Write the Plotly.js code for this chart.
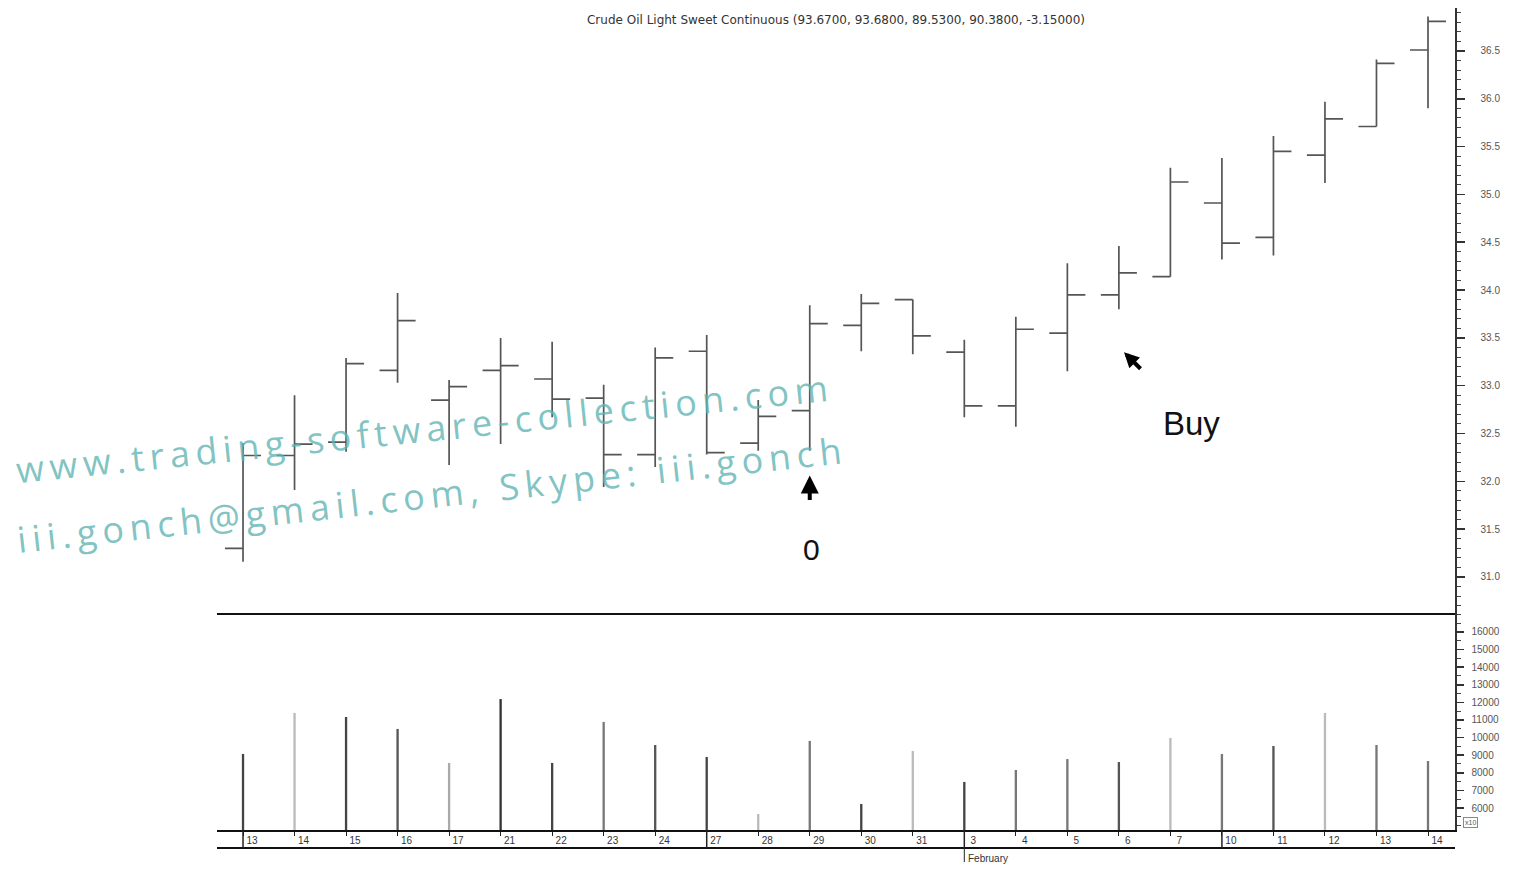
<!DOCTYPE html>
<html>
<head>
<meta charset="utf-8">
<script src="https://cdn.plot.ly/plotly-3.0.1.min.js"></script>
<style>html,body{margin:0;padding:0;background:#fff;}#chart{width:1515px;height:869px;}</style>
</head>
<body>
<div id="chart"></div>
<script>
// ---- data ----
const dates = ["2003-01-13","2003-01-14","2003-01-15","2003-01-16","2003-01-17","2003-01-21","2003-01-22","2003-01-23","2003-01-24","2003-01-27","2003-01-28","2003-01-29","2003-01-30","2003-01-31","2003-02-03","2003-02-04","2003-02-05","2003-02-06","2003-02-07","2003-02-10","2003-02-11","2003-02-12","2003-02-13","2003-02-14"];
const openP  = [31.30,32.27,32.41,33.16,32.85,33.16,33.07,32.87,32.28,33.36,32.40,32.74,33.63,33.90,33.35,32.79,33.55,33.95,34.14,34.91,34.55,35.41,35.71,36.51];
const highP  = [32.40,32.90,33.29,33.97,33.06,33.50,33.46,33.01,33.40,33.53,32.85,33.84,33.96,33.90,33.48,33.72,34.28,34.46,35.28,35.38,35.61,35.97,36.41,36.86];
const lowP   = [31.16,31.91,32.31,33.03,32.17,32.39,32.67,31.94,32.15,32.28,32.32,32.32,33.36,33.33,32.67,32.57,33.15,33.80,34.14,34.32,34.36,35.12,35.71,35.90];
const closeP = [32.27,32.39,33.23,33.68,32.99,33.21,32.86,32.28,33.29,32.30,32.68,33.65,33.86,33.52,32.79,33.59,33.95,34.18,35.13,34.49,35.45,35.79,36.37,36.81];
const volume = [9070,11400,11170,10490,8560,12190,8560,10890,9580,8900,5660,9810,6230,9240,7480,8160,8780,8610,9980,9070,9520,11400,9580,8670];
const priceTicks = [31.0,31.5,32.0,32.5,33.0,33.5,34.0,34.5,35.0,35.5,36.0,36.5];
const volumeTicks = [6000,7000,8000,9000,10000,11000,12000,13000,14000,15000,16000];
const titleText = "Crude Oil Light Sweet Continuous (93.6700, 93.6800, 89.5300, 90.3800, -3.15000)";
const watermark1 = "www.trading-software-collection.com";
const watermark2 = "iii.gonch@gmail.com, Skype: iii.gonch";

// ---- derived ----
const idx = dates.map((d,i)=>i);
const dayLabels = dates.map(d=>String(parseInt(d.slice(8),10)));
const dObjs = dates.map(d=>new Date(d+"T00:00:00Z"));
const mondays = idx.filter(i=>dObjs[i].getUTCDay()===1);
const monthStart = idx.filter(i=>i>0 && dObjs[i].getUTCMonth()!==dObjs[i-1].getUTCMonth());
const monthNames = ["January","February","March","April","May","June","July","August","September","October","November","December"];

const volColors = ["#444","#bbb","#444","#555","#aaa","#333","#444","#777","#555","#444","#bbb","#777","#444","#bbb","#444","#777","#777","#555","#bbb","#777","#555","#bbb","#777","#777"];

const font = "Liberation Sans, Arial, sans-serif";
const bandY = -18/822;

const traces = [
  {type:"ohlc", x:idx, open:openP, high:highP, low:lowP, close:closeP,
   xaxis:"x", yaxis:"y2", tickwidth:0.35, hoverinfo:"skip", showlegend:false,
   increasing:{line:{color:"#555",width:1.7}}, decreasing:{line:{color:"#555",width:1.7}}},
  {type:"bar", x:idx, y:volume, xaxis:"x", yaxis:"y", width:0.045,
   marker:{color:volColors, line:{width:0}}, hoverinfo:"skip", showlegend:false}
];

const shapes = [
  {type:"line", xref:"paper", yref:"paper", x0:0, x1:1, y0:216/822, y1:216/822, line:{color:"#111",width:2}},
  {type:"line", xref:"paper", yref:"paper", x0:0, x1:1, y0:bandY, y1:bandY, line:{color:"#111",width:2}}
];
mondays.forEach(i=>shapes.push({type:"line", xref:"x", yref:"paper", x0:i, x1:i, y0:0, y1:bandY, line:{color:"#222",width:1.5}}));
monthStart.forEach(i=>shapes.push({type:"line", xref:"x", yref:"paper", x0:i, x1:i, y0:bandY, y1:-32/822, line:{color:"#222",width:1}}));

const wmFont = {family:"Open Sans, sans-serif", size:36, color:"rgba(95,180,180,0.8)"};
const annotations = [
  {xref:"x", yref:"y2", x:11, y:32.06, ax:0, ay:26, text:"", showarrow:true, arrowhead:2, arrowsize:0.9, arrowwidth:4, arrowcolor:"#000"},
  {xref:"x", yref:"y2", x:11.03, y:31.29, text:"0", showarrow:false, font:{family:font,size:30,color:"#111"}},
  {xref:"x", yref:"y2", x:17.10, y:33.35, ax:18, ay:18, text:"", showarrow:true, arrowhead:2, arrowsize:0.75, arrowwidth:4, arrowcolor:"#000"},
  {xref:"x", yref:"y2", x:18.40, y:32.61, text:"Buy", showarrow:false, font:{family:font,size:33,color:"#111"}},
  {xref:"paper", yref:"paper", x:(424-217)/1238, y:(830-428)/822, xanchor:"center", yanchor:"middle", text:watermark1, showarrow:false, textangle:-5.8, font:wmFont},
  {xref:"paper", yref:"paper", x:(432-217)/1238, y:(830-494)/822, xanchor:"center", yanchor:"middle", text:watermark2, showarrow:false, textangle:-6.2, font:wmFont},
  {xref:"paper", yref:"paper", x:(1470-217)/1238, y:8/822, xanchor:"center", yanchor:"middle", text:"x10", showarrow:false, font:{family:font,size:7,color:"#555"},
   bordercolor:"#888", borderwidth:1, borderpad:1}
];
monthStart.forEach(i=>annotations.push({xref:"x", yref:"paper", x:i, y:-28/822, xanchor:"left", yanchor:"middle", xshift:2,
  text:monthNames[dObjs[i].getUTCMonth()], showarrow:false, font:{family:font,size:10,color:"#333"}}));

const layout = {
  width:1515, height:869,
  margin:{l:217, r:60, t:8, b:39},
  paper_bgcolor:"#fff", plot_bgcolor:"#fff",
  title:{text:titleText, x:0.5, xref:"paper", y:1-20/869, yanchor:"middle", font:{family:"DejaVu Sans, sans-serif",size:12,color:"#333"}},
  showlegend:false,
  xaxis:{domain:[0,1], anchor:"y", range:[-0.505,23.524], tickmode:"array", tickvals:idx, ticktext:dayLabels,
    ticks:"outside", ticklen:4, tickcolor:"#222", tickwidth:1, ticklabelshift:9, ticklabelstandoff:-4,
    showline:true, linecolor:"#111", linewidth:2, showgrid:false, zeroline:false,
    tickfont:{family:font,size:10,color:"#333"}, rangeslider:{visible:false}, fixedrange:true},
  yaxis2:{domain:[216/822,1], anchor:"x", side:"right", range:[30.613,36.949], tickmode:"array", tickvals:priceTicks,
    ticktext:priceTicks.map(v=>v.toFixed(1)), ticks:"outside", ticklen:8, tickcolor:"#333", tickwidth:1.5, ticklabelstandoff:14,
    minor:{dtick:0.1, tick0:0, ticks:"outside", ticklen:4, tickcolor:"#444", tickwidth:1, showgrid:false},
    showline:true, linecolor:"#333", linewidth:1.5, showgrid:false, zeroline:false,
    tickfont:{family:font,size:10,color:"#555"}},
  yaxis:{domain:[0,216/822], anchor:"x", side:"right", range:[4750,17020], tickmode:"array", tickvals:volumeTicks,
    ticktext:volumeTicks.map(v=>String(v)), ticks:"outside", ticklen:7, tickcolor:"#333", tickwidth:1.5, ticklabelstandoff:6,
    minor:{dtick:500, tick0:0, ticks:"outside", ticklen:4, tickcolor:"#444", tickwidth:1, showgrid:false},
    showline:true, linecolor:"#333", linewidth:1.5, showgrid:false, zeroline:false,
    tickfont:{family:font,size:10,color:"#555"}},
  shapes:shapes,
  annotations:annotations
};

Plotly.newPlot("chart", traces, layout, {displayModeBar:false, staticPlot:true}).then(function(){
  document.querySelectorAll("#chart .annotation-text").forEach(function(t){
    if (t.textContent === watermark1) t.style.letterSpacing = "5.6px";
    if (t.textContent === watermark2) t.style.letterSpacing = "5.8px";
  });
});
</script>
</body>
</html>
